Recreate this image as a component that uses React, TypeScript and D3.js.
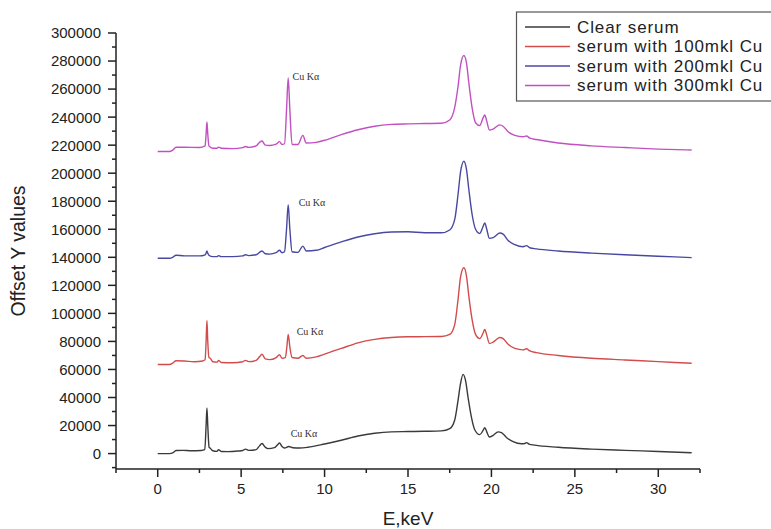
import React from "react";
import * as d3 from "d3";

type P = [number, number];

const clearSerum: P[] = [
  [0, 0], [0.7, 0], [0.9, 500], [1.1, 2200], [1.5, 2300], [2.0, 2000], [2.6, 2200], [2.82, 2800],
  [2.9, 20000], [2.95, 32500], [3.0, 20000], [3.08, 4500], [3.15, 3800], [3.3, 2000], [3.55, 1600],
  [3.65, 2800], [3.8, 1500], [4.2, 1400], [4.8, 1800], [5.1, 2200], [5.25, 3200], [5.45, 2300],
  [5.9, 2800], [6.1, 5500], [6.25, 7200], [6.45, 4500], [6.6, 3500], [7.0, 4200], [7.2, 6500],
  [7.3, 7500], [7.45, 5000], [7.6, 4000], [7.85, 5000], [8.1, 4200], [8.5, 4000], [9.0, 4500],
  [10, 6800], [11, 9500], [12, 12500], [13, 14500], [14, 15500], [15, 15700], [16, 15900],
  [17.0, 16200], [17.5, 17800], [17.8, 24000], [18.0, 38000], [18.15, 50000],
  [18.3, 56500], [18.45, 52000], [18.6, 40000], [18.8, 26000], [19.0, 17000], [19.3, 13500],
  [19.5, 16500], [19.6, 18500], [19.72, 15500], [19.88, 11800], [20.1, 13000], [20.4, 15500],
  [20.6, 15000], [20.9, 11500], [21.3, 8500], [21.8, 7000], [22.0, 7200], [22.1, 7800],
  [22.25, 6800], [22.6, 6000], [24, 4500], [26, 3200], [28, 2300], [30, 1500], [32, 600],
];

const serum100: P[] = [
  [0, 63500], [0.7, 63500], [0.9, 64500], [1.1, 66200], [1.6, 66000], [2.2, 65500], [2.7, 66000],
  [2.84, 67000], [2.9, 80000], [2.95, 95000], [3.0, 80000], [3.07, 68500], [3.15, 68000],
  [3.3, 65500], [3.55, 65200], [3.65, 66500], [3.8, 65000], [4.5, 64800], [5.1, 65500],
  [5.25, 66500], [5.45, 65600], [5.9, 66500], [6.1, 69000], [6.25, 70800], [6.45, 67500],
  [6.7, 67000], [7.1, 68500], [7.3, 70500], [7.45, 68000], [7.65, 68500], [7.74, 76000],
  [7.82, 85000], [7.92, 76000], [8.05, 68500], [8.4, 68000], [8.7, 70000], [8.9, 68000],
  [9.5, 69000], [10, 71000], [11, 75000], [12, 79000], [13, 81500], [14, 82800], [15, 83300],
  [16, 83400], [17.0, 83500], [17.5, 85000], [17.8, 92000], [18.0, 110000], [18.15, 126000],
  [18.35, 132500], [18.5, 127000], [18.65, 112000], [18.85, 95000], [19.05, 85000], [19.3, 82000],
  [19.5, 86000], [19.6, 88500], [19.72, 84500], [19.88, 78500], [20.1, 79500], [20.5, 82800],
  [20.7, 82000], [21.0, 78000], [21.4, 75000], [21.9, 74000], [22.1, 74800], [22.3, 73200],
  [22.7, 72000], [24, 70000], [26, 68000], [28, 66800], [30, 65600], [32, 64400],
];

const serum200: P[] = [
  [0, 139300], [0.7, 139300], [0.9, 140000], [1.1, 141500], [1.6, 141000], [2.5, 141000],
  [2.84, 141800], [2.9, 143000], [2.95, 144500], [3.0, 143000], [3.07, 141500], [3.3, 140500],
  [3.55, 140500], [3.65, 141200], [3.8, 140500], [4.5, 140500], [5.1, 141000], [5.25, 141800],
  [5.45, 141200], [5.9, 141800], [6.1, 143500], [6.25, 144500], [6.45, 142500], [6.7, 142300],
  [7.1, 143300], [7.3, 145000], [7.45, 143300], [7.6, 144000], [7.72, 160000], [7.82, 177500],
  [7.92, 160000], [8.05, 144000], [8.4, 143500], [8.7, 148000], [8.9, 144500], [9.5, 145000],
  [10, 147000], [11, 151000], [12, 154500], [13, 156800], [14, 158000], [15, 158200], [16, 157500],
  [17, 157500], [17.5, 159500], [17.8, 167000], [18.0, 185000], [18.15, 201000], [18.35, 208500],
  [18.5, 203000], [18.65, 188000], [18.85, 170000], [19.05, 160000], [19.3, 157000], [19.5, 162000],
  [19.6, 164500], [19.72, 160000], [19.88, 153500], [20.1, 154000], [20.5, 157300], [20.7, 156500],
  [21.0, 152000], [21.4, 149000], [21.9, 147500], [22.1, 148300], [22.3, 146800], [22.7, 146000],
  [24, 144500], [26, 143000], [28, 141800], [30, 140800], [32, 139800],
];

const serum300: P[] = [
  [0, 215500], [0.7, 215500], [0.9, 216500], [1.1, 218500], [1.6, 218500], [2.5, 218300],
  [2.84, 219500], [2.9, 228000], [2.95, 236500], [3.0, 228000], [3.07, 219500], [3.3, 217800],
  [3.55, 217800], [3.65, 218600], [3.8, 217800], [4.5, 217500], [5.1, 218200], [5.25, 219000],
  [5.45, 218400], [5.9, 219500], [6.1, 222000], [6.25, 223000], [6.45, 220000], [6.7, 219800],
  [7.1, 220800], [7.3, 222500], [7.45, 220500], [7.6, 221000], [7.72, 245000], [7.82, 268000],
  [7.92, 245000], [8.05, 220500], [8.4, 220500], [8.7, 227000], [8.9, 221500], [9.5, 222000],
  [10, 223500], [11, 227500], [12, 231000], [13, 233500], [14, 234800], [15, 235200], [16, 235400],
  [17, 235600], [17.5, 238000], [17.8, 247000], [18.0, 262000], [18.15, 277000], [18.35, 284000],
  [18.5, 279000], [18.65, 264000], [18.85, 246000], [19.05, 236000], [19.3, 234000], [19.5, 239500],
  [19.6, 241500], [19.72, 237000], [19.88, 230800], [20.1, 231500], [20.5, 234500], [20.7, 233500],
  [21.0, 229500], [21.4, 227000], [21.9, 226000], [22.1, 226500], [22.3, 225000], [22.7, 224000],
  [24, 221500], [26, 219500], [28, 218300], [30, 217200], [32, 216500],
];

const seriesNames = [
  "Clear serum",
  "serum with 100mkl Cu",
  "serum with 200mkl Cu",
  "serum with 300mkl Cu",
];
const seriesData = [clearSerum, serum100, serum200, serum300];
const seriesColors = ["#3a3a3a", "#d24c4c", "#4848a2", "#c250c2"];

// Cu Kα annotation anchors (keV, offset value)
const annotX = [7.97, 8.33, 8.45, 8.08];
const annotY = [11900, 84600, 176600, 266400];
const annotText = "Cu Kα";

const xMajorTicks = [0, 5, 10, 15, 20, 25, 30];
const xMinorTicks = [-2.5, 2.5, 7.5, 12.5, 17.5, 22.5, 27.5, 32.5];
const yMajorTicks = d3.range(0, 300001, 20000);
const yMinorTicks = d3.range(-10000, 300001, 20000);

const xTitle = "E,keV";
const yTitle = "Offset Y values";

const W = 771;
const H = 529;
const left = 116, right = 700, top = 33, bottom = 469;

export default function App() {
  const x = d3.scaleLinear().domain([-2.5, 32.5]).range([left, right]);
  const y = d3.scaleLinear().domain([-11000, 300000]).range([bottom, top]);
  const line = d3
    .line<P>()
    .x((d) => x(d[0]))
    .y((d) => y(d[1]))
    .curve(d3.curveMonotoneX);

  const sans = "'Liberation Sans', Arial, sans-serif";
  const serif = "'Liberation Serif', 'Times New Roman', serif";

  return (
    <svg
      width={W}
      height={H}
      style={{ position: "absolute", left: 0, top: 0, background: "#fff" }}
      fontFamily={sans}
    >
      <rect x={0} y={0} width={W} height={H} fill="#fff" />
      {seriesData.map((d, i) => (
        <path
          key={i}
          d={line(d) || ""}
          fill="none"
          stroke={seriesColors[i]}
          strokeWidth={1.4}
          strokeLinejoin="round"
        />
      ))}
      {annotX.map((ax, i) => (
        <text
          key={"a" + i}
          x={x(ax)}
          y={y(annotY[i])}
          fontFamily={serif}
          fontSize={10}
          fill="#333"
        >
          {annotText}
        </text>
      ))}
      {/* axes */}
      <g stroke="#222" strokeWidth={1.5} fill="none">
        <line x1={left} y1={top} x2={left} y2={bottom} />
        <line x1={left} y1={bottom} x2={right} y2={bottom} />
        {yMajorTicks.map((t) => (
          <line key={"ym" + t} x1={left - 8} x2={left} y1={y(t)} y2={y(t)} />
        ))}
        {yMinorTicks.map((t) => (
          <line key={"yn" + t} x1={left - 4} x2={left} y1={y(t)} y2={y(t)} />
        ))}
        {xMajorTicks.map((t) => (
          <line key={"xm" + t} x1={x(t)} x2={x(t)} y1={bottom} y2={bottom + 8} />
        ))}
        {xMinorTicks.map((t) => (
          <line key={"xn" + t} x1={x(t)} x2={x(t)} y1={bottom} y2={bottom + 4} />
        ))}
      </g>
      {yMajorTicks.map((t) => (
        <text
          key={"yl" + t}
          x={left - 15}
          y={y(t)}
          dy="0.36em"
          textAnchor="end"
          fontSize={15}
          fill="#222"
        >
          {t}
        </text>
      ))}
      {xMajorTicks.map((t) => (
        <text
          key={"xl" + t}
          x={x(t)}
          y={bottom + 25}
          textAnchor="middle"
          fontSize={15}
          fill="#222"
        >
          {t}
        </text>
      ))}
      <text x={(left + right) / 2} y={525} textAnchor="middle" fontSize={19} fill="#222">
        {xTitle}
      </text>
      <text
        transform={`translate(25,${(top + bottom) / 2}) rotate(-90)`}
        textAnchor="middle"
        fontSize={19.5}
        fill="#222"
      >
        {yTitle}
      </text>
      {/* legend */}
      <rect x={516.5} y={12} width={300} height={89} fill="#fff" stroke="#555" strokeWidth={1.2} />
      {seriesNames.map((n, i) => {
        const cy = 27 + i * 19.5;
        return (
          <g key={"lg" + i}>
            <line x1={525} x2={570} y1={cy} y2={cy} stroke={seriesColors[i]} strokeWidth={1.3} />
            <text x={577} y={cy + 5.5} fontSize={17} letterSpacing={0.9} fill="#222">
              {n}
            </text>
          </g>
        );
      })}
    </svg>
  );
}
